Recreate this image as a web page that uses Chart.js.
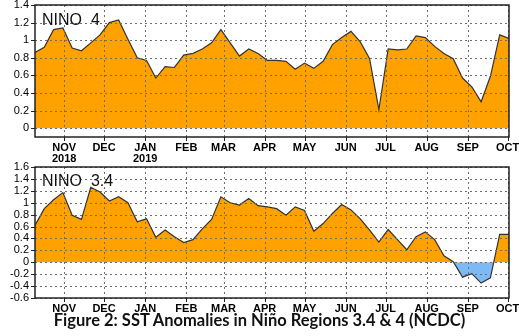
<!DOCTYPE html>
<html><head><meta charset="utf-8">
<script src="https://cdn.jsdelivr.net/npm/chart.js@4"></script>
<style>
html,body{margin:0;padding:0;background:#fff;width:519px;height:336px;overflow:hidden;}
#c1{position:absolute;left:0;top:0;}
#c2{position:absolute;left:0;top:160px;}
#cap{position:absolute;left:0;top:311px;width:519px;text-align:center;font:bold 16.5px Lato;line-height:19px;color:#111;}
</style></head><body>
<canvas id="c1" width="519" height="165"></canvas>
<canvas id="c2" width="519" height="155"></canvas>
<div id="cap">Figure 2: SST Anomalies in Niño Regions 3.4 &amp; 4 (NCDC)</div>
<script>
// anomalias semanales, desde el 10 oct 2018 hasta el 2 oct 2019
var nino4 = [0.86,0.92,1.12,1.14,0.91,0.88,0.97,1.06,1.20,1.23,1.01,0.80,0.77,0.57,0.70,0.69,
             0.83,0.85,0.90,0.97,1.12,0.97,0.82,0.90,0.85,0.77,0.77,0.76,0.67,0.74,0.68,0.76,
             0.95,1.03,1.10,0.98,0.79,0.21,0.90,0.89,0.90,1.05,1.03,0.93,0.85,0.79,0.57,0.47,
             0.30,0.59,1.06,1.02];
var nino34 = [0.62,0.90,1.05,1.17,0.79,0.72,1.26,1.18,1.03,1.10,1.00,0.68,0.73,0.42,0.54,0.43,
              0.33,0.38,0.56,0.72,1.10,1.00,0.96,1.07,0.95,0.93,0.90,0.79,0.93,0.87,0.52,0.65,
              0.82,0.97,0.88,0.73,0.54,0.34,0.55,0.38,0.21,0.43,0.51,0.38,0.11,0.01,-0.25,-0.19,
              -0.35,-0.26,0.47,0.47];
var primerDia = 9; // dias desde 1 oct 2018
var diasMes = [31,61,92,123,151,182,212,243,273,304,335,365];
var meses = ['NOV','DEC','JAN','FEB','MAR','APR','MAY','JUN','JUL','AUG','SEP','OCT'];
var anios = {0:'2018', 2:'2019'};
var ticksNino4 = [0,0.2,0.4,0.6,0.8,1,1.2,1.4];
var ticksNino34 = [-0.6,-0.4,-0.2,0,0.2,0.4,0.6,0.8,1,1.2,1.4,1.6];

// rejilla punteada y marcas, a partir de los ticks de las escalas
var rejilla = {
    id: 'rejilla',
    afterDatasetsDraw: function(chart) {
        var a = chart.chartArea, ctx = chart.ctx, sx = chart.scales.x, sy = chart.scales.y;
        var xs = sx.ticks.map(function(t) { return Math.round(sx.getPixelForValue(t.value)) + 0.5; });
        var ys = sy.ticks.map(function(t) { return Math.round(sy.getPixelForValue(t.value)) + 0.5; });
        ctx.save();
        ctx.lineWidth = 1;
        ctx.strokeStyle = '#6e6e6e';
        ctx.setLineDash([2, 3]);
        ctx.beginPath();
        xs.forEach(function(px) { ctx.moveTo(px, a.top); ctx.lineTo(px, a.bottom); });
        ys.forEach(function(py) { ctx.moveTo(a.left, py); ctx.lineTo(a.right, py); });
        ctx.stroke();
        ctx.setLineDash([]);
        ctx.strokeStyle = '#222';
        ctx.beginPath();
        xs.forEach(function(px) { ctx.moveTo(px, a.bottom); ctx.lineTo(px, a.bottom + 4); });
        ys.forEach(function(py) { ctx.moveTo(a.left - 4, py); ctx.lineTo(a.left, py); });
        ctx.stroke();
        ctx.restore();
    }
};

var marco = {
    id: 'marco',
    afterDraw: function(chart) {
        var a = chart.chartArea, ctx = chart.ctx;
        ctx.save();
        ctx.strokeStyle = '#222';
        ctx.lineWidth = 1.5;
        ctx.strokeRect(a.left, a.top, a.right - a.left, a.bottom - a.top);
        ctx.restore();
    }
};

var rotulo = {
    id: 'rotulo',
    afterDraw: function(chart, args, opts) {
        var ctx = chart.ctx;
        ctx.save();
        ctx.font = '16px "Liberation Sans"';
        ctx.fillStyle = '#111';
        ctx.fillText(opts.text, chart.chartArea.left + 7, chart.chartArea.top + opts.dy);
        ctx.restore();
    }
};

function crearPanel(id, valores, yTicks, yMin, yMax, titulo, dy, conAnio, padTop, altoX) {
    var puntos = valores.map(function(v, i) { return { x: primerDia + 7 * i, y: v }; });
    new Chart(document.getElementById(id), {
        type: 'line',
        data: { datasets: [{ data: puntos, borderColor: '#333', borderWidth: 1.2, pointRadius: 0, tension: 0,
            fill: { target: { value: 0 }, above: '#ffa200', below: '#7dbaf5' } }] },
        options: {
            responsive: false, animation: false,
            layout: { padding: { top: padTop, right: 10, left: 0, bottom: 0 } },
            plugins: { legend: { display: false }, tooltip: { enabled: false }, rotulo: { text: titulo, dy: dy } },
            scales: {
                x: {
                    type: 'linear', min: primerDia, max: primerDia + 7 * (valores.length - 1),
                    afterBuildTicks: function(s) { s.ticks = diasMes.map(function(d) { return { value: d }; }); },
                    afterFit: function(s) { s.height = altoX; s.paddingLeft = 0; s.paddingRight = 0; },
                    ticks: { autoSkip: false, maxRotation: 0, color: '#000', padding: 1,
                        font: { family: 'Liberation Sans', size: 11, weight: 'bold', lineHeight: 1 },
                        callback: function(v, i) { return (conAnio && anios[i]) ? [meses[i], anios[i]] : meses[i]; } },
                    grid: { display: false, drawTicks: true, tickLength: 4 },
                    border: { display: false }
                },
                y: {
                    min: yMin, max: yMax,
                    afterBuildTicks: function(s) { s.ticks = yTicks.map(function(t) { return { value: t }; }); },
                    afterFit: function(s) { s.width = 35; s.paddingTop = 0; s.paddingBottom = 0; },
                    ticks: { autoSkip: false, color: '#000', padding: 2, font: { family: 'Liberation Sans', size: 11 },
                        callback: function(v) { return String(v); } },
                    grid: { display: false, drawTicks: true, tickLength: 4 },
                    border: { display: false }
                }
            }
        },
        plugins: [rejilla, marco, rotulo]
    });
}

crearPanel('c1', nino4, ticksNino4, -0.1, 1.4, 'NINO  4', 20, true, 5, 28);
crearPanel('c2', nino34, ticksNino34, -0.6, 1.6, 'NINO  3.4', 19, false, 7, 17);
</script>
</body></html>
